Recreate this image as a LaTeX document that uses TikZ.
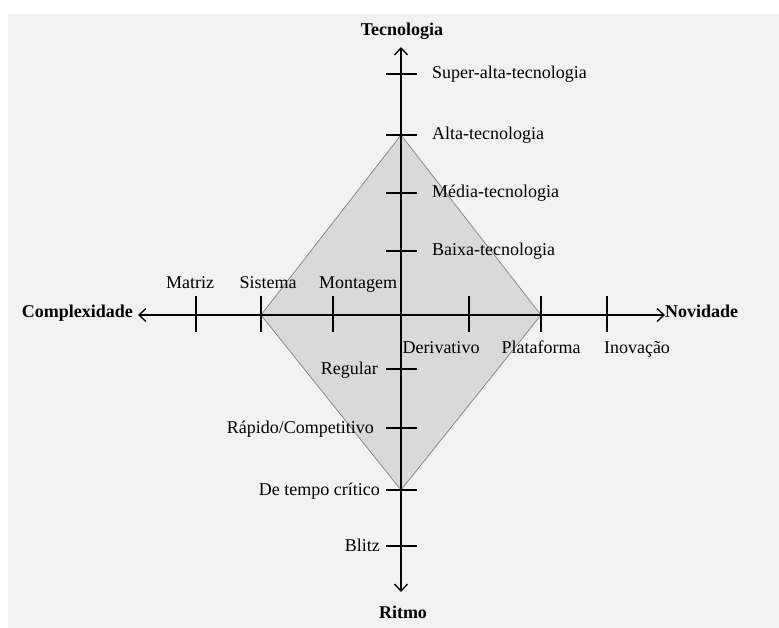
\documentclass[tikz,border=0pt]{standalone}
\usepackage{fontspec}
\setmainfont{Liberation Serif}
\usetikzlibrary{arrows.meta}
\definecolor{bgpanel}{HTML}{F2F2F2}
\definecolor{diafill}{HTML}{D9D9D9}
\definecolor{diaedge}{HTML}{808080}
\begin{document}
\begin{tikzpicture}[x=1pt,y=-1pt,
  axisline/.style={line width=1.3pt,black,{Straight Barb[length=7pt,width=13pt]}-{Straight Barb[length=7pt,width=13pt]}},
  tickline/.style={line width=1.3pt,black},
  lbl/.style={font=\fontsize{18}{21}\selectfont,inner sep=0pt,text height=12pt,text depth=4pt},
  axlbl/.style={font=\fontsize{18}{21}\selectfont\bfseries,inner sep=0pt,text height=12pt,text depth=4pt}]
\useasboundingbox (0,0) rectangle (779,628);
\fill[bgpanel] (8,14) rectangle (779,628);
% diamond
\coordinate (dT) at (401,135);
\coordinate (dR) at (541,315);
\coordinate (dB) at (401,490);
\coordinate (dL) at (261,315);
\filldraw[fill=diafill,draw=diaedge,line width=0.7pt] (dT) -- (dR) -- (dB) -- (dL) -- cycle;
% axes
\coordinate (vTop) at (401,47);
\coordinate (vBot) at (401,592);
\coordinate (hLeft) at (138,315);
\coordinate (hRight) at (665,315);
\draw[axisline] (vBot) -- (vTop);
\draw[axisline] (hLeft) -- (hRight);
% axis labels
\node[axlbl] (tec) at (402,32) {Tecnologia};
\node[axlbl] (rit) at (403,614) {Ritmo};
\node[axlbl,anchor=east] (com) at (133,314) {Complexidade};
\node[axlbl,anchor=west] (nov) at (665,313) {Novidade};
% vertical ticks
\foreach \n/\y in {t1/74,t2/135,t3/193,t4/251,t5/369,t6/428,t7/490,t8/546}{
  \coordinate (\n a) at (386,\y);
  \coordinate (\n b) at (417,\y);
  \draw[tickline] (\n a) -- (\n b);
}
% horizontal ticks
\foreach \n/\x in {h1/196,h2/261,h3/333,h4/469,h5/541,h6/607}{
  \coordinate (\n a) at (\x,296);
  \coordinate (\n b) at (\x,332);
  \draw[tickline] (\n a) -- (\n b);
}
% upper labels
\node[lbl,anchor=west] (sup) at (432,75) {Super-alta-tecnologia};
\node[lbl,anchor=west] (alt) at (432,136) {Alta-tecnologia};
\node[lbl,anchor=west] (med) at (432,194) {Média-tecnologia};
\node[lbl,anchor=west] (bai) at (432,252) {Baixa-tecnologia};
% lower labels
\node[lbl,anchor=east] (reg) at (378,370) {Regular};
\node[lbl,anchor=east] (rap) at (374,429) {Rápido/Competitivo};
\node[lbl,anchor=east] (dtc) at (380,491) {De tempo crítico};
\node[lbl,anchor=east] (bli) at (380,547) {Blitz};
% left labels
\node[lbl] (mat) at (190,285) {Matriz};
\node[lbl] (sis) at (268,285) {Sistema};
\node[lbl] (mon) at (358,285) {Montagem};
% right labels
\node[lbl] (der) at (441,349) {Derivativo};
\node[lbl] (pla) at (541,349) {Plataforma};
\node[lbl] (ino) at (637,349) {Inovação};
\end{tikzpicture}
\end{document}
